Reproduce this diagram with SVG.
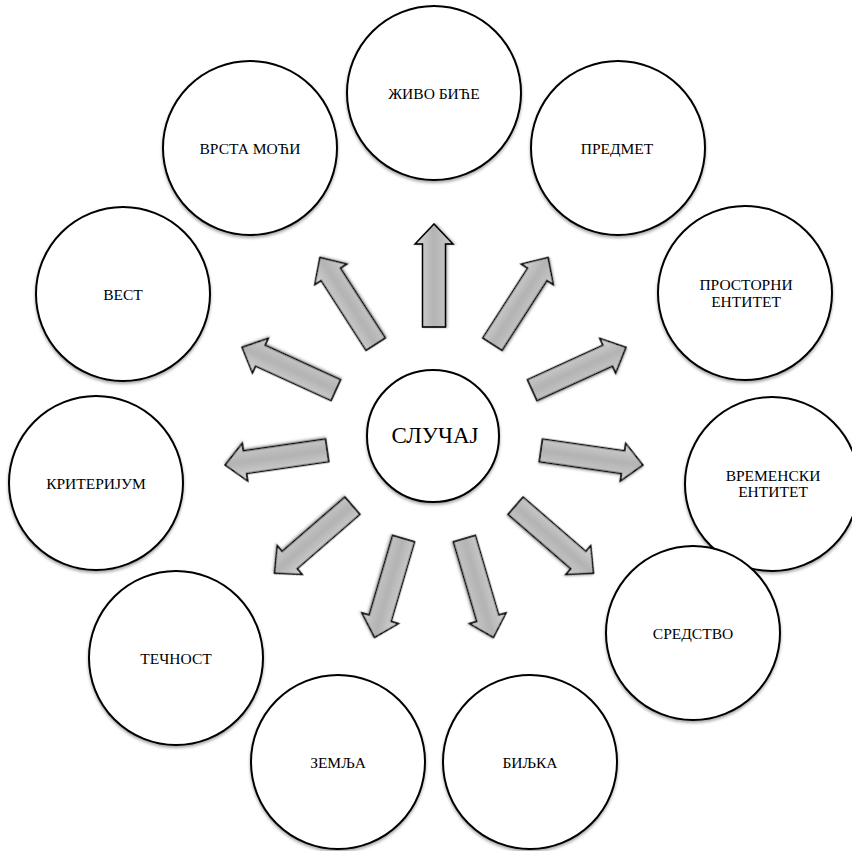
<svg xmlns="http://www.w3.org/2000/svg" xmlns:xlink="http://www.w3.org/1999/xlink" width="852" height="851" viewBox="0 0 852 851">
  <style>
    .node circle { fill: #ffffff; stroke: #000000; stroke-width: 2; filter: url(#shadow); }
    .node text { font-family: "Liberation Serif", "Times New Roman", serif; font-size: 15.5px; fill: #000000; text-anchor: middle; }
    .center text { font-size: 23px; }
    .arrow { fill: url(#arrowGrad); stroke: #000000; stroke-width: 1.6; stroke-linejoin: miter; filter: url(#ashadow); }
  </style>
  <defs>
    <filter id="shadow" x="-20%" y="-20%" width="140%" height="140%">
      <feDropShadow dx="0" dy="2" stdDeviation="1.8" flood-color="#000000" flood-opacity="0.35"/>
    </filter>
    <filter id="ashadow" x="-20%" y="-30%" width="140%" height="160%">
      <feDropShadow dx="0" dy="1.5" stdDeviation="1.2" flood-color="#000000" flood-opacity="0.3"/>
    </filter>
    <linearGradient id="arrowGrad" x1="0" y1="0" x2="0" y2="1">
      <stop offset="0" stop-color="#d6d6d6"/>
      <stop offset="0.5" stop-color="#b3b3b3"/>
      <stop offset="1" stop-color="#cdcdcd"/>
    </linearGradient>
    <path id="arr" d="M108,-11.5 L191,-11.5 L191,-19 L211,0 L191,19 L191,11.5 L108,11.5 Z"/>
  </defs>
  <rect width="852" height="851" fill="#ffffff"/>

  <g id="connectors">
    <use xlink:href="#arr" class="arrow" transform="translate(434,435) rotate(-90)"/>
    <use xlink:href="#arr" class="arrow" transform="translate(434,435) rotate(-57.27)"/>
    <use xlink:href="#arr" class="arrow" transform="translate(434,435) rotate(-24.55)"/>
    <use xlink:href="#arr" class="arrow" transform="translate(434,435) rotate(8.18)"/>
    <use xlink:href="#arr" class="arrow" transform="translate(434,435) rotate(40.91)"/>
    <use xlink:href="#arr" class="arrow" transform="translate(434,435) rotate(73.64)"/>
    <use xlink:href="#arr" class="arrow" transform="translate(434,435) rotate(106.36)"/>
    <use xlink:href="#arr" class="arrow" transform="translate(434,435) rotate(139.09)"/>
    <use xlink:href="#arr" class="arrow" transform="translate(434,435) rotate(171.82)"/>
    <use xlink:href="#arr" class="arrow" transform="translate(434,435) rotate(204.55)"/>
    <use xlink:href="#arr" class="arrow" transform="translate(434,435) rotate(237.27)"/>
  </g>

  <g id="node-center" class="node center">
    <circle cx="433" cy="436" r="66"/>
    <text x="435" y="443">СЛУЧАЈ</text>
  </g>
  <g id="node-zivo-bice" class="node">
    <circle cx="434" cy="93" r="87"/>
    <text x="434" y="99">ЖИВО БИЋЕ</text>
  </g>
  <g id="node-predmet" class="node">
    <circle cx="618" cy="148" r="87"/>
    <text x="617" y="154">ПРЕДМЕТ</text>
  </g>
  <g id="node-prostorni" class="node">
    <circle cx="745" cy="293" r="87"/>
    <text x="746" y="290">ПРОСТОРНИ</text>
    <text x="746" y="307">ЕНТИТЕТ</text>
  </g>
  <g id="node-vremenski" class="node">
    <circle cx="772" cy="484" r="87"/>
    <text x="773" y="481">ВРЕМЕНСКИ</text>
    <text x="773" y="497">ЕНТИТЕТ</text>
  </g>
  <g id="node-sredstvo" class="node">
    <circle cx="693" cy="633" r="87"/>
    <text x="693" y="639">СРЕДСТВО</text>
  </g>
  <g id="node-biljka" class="node">
    <circle cx="530" cy="762" r="87"/>
    <text x="530" y="768">БИЉКА</text>
  </g>
  <g id="node-zemlja" class="node">
    <circle cx="338" cy="762" r="87"/>
    <text x="338" y="768">ЗЕМЉА</text>
  </g>
  <g id="node-tecnost" class="node">
    <circle cx="176" cy="658" r="87"/>
    <text x="176" y="664">ТЕЧНОСТ</text>
  </g>
  <g id="node-kriterijum" class="node">
    <circle cx="96" cy="483" r="87"/>
    <text x="96" y="489">КРИТЕРИЈУМ</text>
  </g>
  <g id="node-vest" class="node">
    <circle cx="123" cy="294" r="87"/>
    <text x="123" y="300">ВЕСТ</text>
  </g>
  <g id="node-vrsta-moci" class="node">
    <circle cx="250" cy="148" r="87"/>
    <text x="250" y="154">ВРСТА МОЋИ</text>
  </g>
</svg>
